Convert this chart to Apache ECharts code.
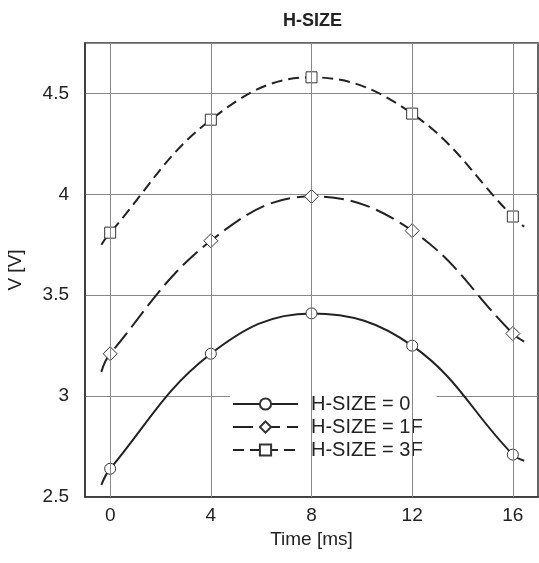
<!DOCTYPE html>
<html>
<head>
<meta charset="utf-8">
<script src="https://cdn.jsdelivr.net/npm/echarts@6/dist/echarts.min.js"></script>
<style>
    html, body { margin: 0; padding: 0; background: #fff; }
    #chart { width: 539px; height: 563px; }
</style>
</head>
<body>
<div id="chart"></div>
<script>
// 测量点 (ms)
const timeMs = [0, 4, 8, 12, 16];
// 曲线两端延长到的位置 (ms)
const curveEnds = [-0.35, 16.45];
// 各曲线的值 (V)
const hSize0 = [2.64, 3.21, 3.41, 3.25, 2.71];
const hSize0Ends = [2.56, 2.68];
const hSize1F = [3.21, 3.77, 3.99, 3.82, 3.31];
const hSize1FEnds = [3.12, 3.27];
const hSize3F = [3.81, 4.37, 4.58, 4.40, 3.89];
const hSize3FEnds = [3.75, 3.84];
// 竖向网格线位置
const xGrid = [0, 4, 8, 12, 16];

const font = 'Liberation Sans, Arial, sans-serif';

function buildData(values, ends) {
    const pts = [{ value: [curveEnds[0], ends[0]], symbol: 'none' }];
    timeMs.forEach((t, i) => pts.push([t, values[i]]));
    pts.push({ value: [curveEnds[1], ends[1]], symbol: 'none' });
    return pts;
}

function makeSeries(name, values, ends, symbol, size, dash) {
    return {
        name: name,
        type: 'line',
        data: buildData(values, ends),
        smooth: 0.4,
        symbol: symbol,
        symbolSize: size,
        showAllSymbol: true,
        z: 3,
        lineStyle: { color: '#222', width: 2, type: dash },
        itemStyle: { color: '#fff', borderColor: '#333', borderWidth: 1 },
        emphasis: { disabled: true },
        animation: false
    };
}

let myChart = echarts.init(document.getElementById('chart'));
let option = {
    backgroundColor: '#fff',
    title: {
        text: 'H-SIZE',
        left: 278,
        top: 7,
        textStyle: { fontFamily: font, fontSize: 18, fontWeight: 'bold', color: '#222' }
    },
    grid: {
        left: 85,
        right: 1,
        top: 43,
        bottom: 66,
        outerBoundsMode: 'none',
        containLabel: false,
        show: true,
        borderColor: '#333',
        borderWidth: 1.5
    },
    legend: {
        orient: 'vertical',
        left: 230,
        top: 382,
        backgroundColor: '#fff',
        padding: [12, 14, 10, 2],
        itemWidth: 65,
        itemHeight: 14,
        itemGap: 3,
        data: ['H-SIZE = 0', 'H-SIZE = 1F', 'H-SIZE = 3F'],
        textStyle: { fontFamily: font, fontSize: 20, color: '#222', padding: [0, 0, 0, 8] }
    },
    xAxis: {
        type: 'value',
        min: -1,
        max: 17,
        interval: 1,
        name: 'Time [ms]',
        nameLocation: 'middle',
        nameGap: 31,
        nameTextStyle: { fontFamily: font, fontSize: 19, color: '#222' },
        axisLine: { show: true, onZero: false, lineStyle: { color: '#333', width: 1.5 } },
        axisTick: { show: false },
        axisLabel: {
            margin: 9,
            fontFamily: font,
            fontSize: 19,
            color: '#222',
            formatter: v => (v % 4 === 0 ? String(v) : '')
        },
        splitLine: { show: false }
    },
    yAxis: {
        type: 'value',
        min: 2.5,
        max: 4.75,
        interval: 0.5,
        name: 'V [V]',
        nameLocation: 'middle',
        nameGap: 60,
        nameTextStyle: { fontFamily: font, fontSize: 19, color: '#222' },
        axisLine: { show: true, onZero: false, lineStyle: { color: '#333', width: 1.5 } },
        axisTick: { show: false },
        axisLabel: {
            margin: 16,
            fontFamily: font,
            fontSize: 19,
            color: '#222',
            showMaxLabel: false
        },
        splitLine: { show: true, lineStyle: { color: '#888', width: 1 } }
    },
    series: [
        {
            // 竖向网格线
            type: 'line',
            data: [],
            z: 1,
            silent: true,
            markLine: {
                silent: true,
                symbol: 'none',
                animation: false,
                label: { show: false },
                lineStyle: { color: '#888', width: 1, type: 'solid' },
                data: xGrid.map(v => ({ xAxis: v }))
            }
        },
        makeSeries('H-SIZE = 0', hSize0, hSize0Ends, 'circle', 11, 'solid'),
        makeSeries('H-SIZE = 1F', hSize1F, hSize1FEnds, 'diamond', 14, [20, 7]),
        makeSeries('H-SIZE = 3F', hSize3F, hSize3FEnds, 'rect', 11, [11, 6])
    ]
};
option && myChart.setOption(option);
</script>
</body>
</html>
